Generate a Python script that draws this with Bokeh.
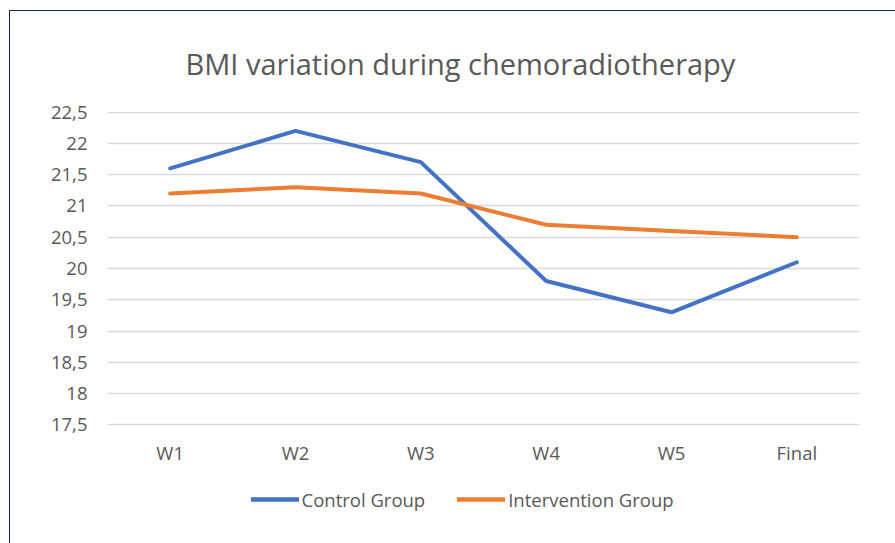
from bokeh.plotting import figure
from bokeh.layouts import column
from bokeh.models import Legend, LegendItem, FixedTicker, CustomJSTickFormatter
from bokeh.embed import file_html
from bokeh.resources import INLINE

weeks = ["W1", "W2", "W3", "W4", "W5", "Final"]
control = [21.6, 22.2, 21.7, 19.8, 19.3, 20.1]
intervention = [21.2, 21.3, 21.2, 20.7, 20.6, 20.5]
y_ticks = [17.5, 18, 18.5, 19, 19.5, 20, 20.5, 21, 21.5, 22, 22.5]
series_names = ["Control Group", "Intervention Group"]
title_text = "BMI variation during chemoradiotherapy"

FONT = "Open Sans"
GREY = "#595959"
BLUE = "#4472c4"
ORANGE = "#ed7d31"

p = figure(x_range=weeks, y_range=(17.49, 22.51), width=885, height=470,
           output_backend="svg", toolbar_location=None,
           min_border_left=97, min_border_right=36, min_border_top=100, min_border_bottom=56)
p.x_range.range_padding = 0
p.outline_line_color = None

p.title.text = title_text
p.title.text_font = FONT
p.title.text_font_size = "29px"
p.title.text_font_style = "normal"
p.title.text_color = GREY
p.title.align = "left"
p.title.offset = 78
p.title.standoff = 57

p.xgrid.grid_line_color = None
p.ygrid.grid_line_color = "#d9d9d9"
p.ygrid.grid_line_width = 1.3

p.yaxis.ticker = FixedTicker(ticks=y_ticks)
p.yaxis.formatter = CustomJSTickFormatter(code="return String(tick).replace('.', ',');")
for ax in (p.xaxis, p.yaxis):
    ax.axis_line_color = None
    ax.major_tick_line_color = None
    ax.minor_tick_line_color = None
    ax.major_label_text_font = FONT
    ax.major_label_text_font_size = "18.5px"
    ax.major_label_text_color = GREY
p.yaxis.major_label_standoff = 14
p.xaxis.major_label_standoff = 8

p.line(weeks, control, line_color=BLUE, line_width=4, line_join="round", line_cap="round")
p.line(weeks, intervention, line_color=ORANGE, line_width=4, line_join="round", line_cap="round")

# legend strip below the chart (its lines lie outside its own range, so only the legend shows)
q = figure(x_range=weeks, y_range=(0, 1), width=885, height=62,
           output_backend="svg", toolbar_location=None,
           min_border_left=0, min_border_right=0, min_border_top=0, min_border_bottom=0)
q.axis.visible = False
q.grid.grid_line_color = None
q.outline_line_color = None
k1 = q.line(weeks, control, line_color=BLUE, line_width=4.5, line_cap="round")
k2 = q.line(weeks, intervention, line_color=ORANGE, line_width=4.5, line_cap="round")
legend = Legend(items=[LegendItem(label=series_names[0], renderers=[k1]),
                       LegendItem(label=series_names[1], renderers=[k2])],
                orientation="horizontal", location=(144, 31),
                border_line_color=None, background_fill_alpha=0,
                padding=0, margin=0, spacing=32, glyph_width=48, glyph_height=20,
                label_standoff=3, label_text_font=FONT, label_text_font_size="18.5px",
                label_text_color=GREY)
q.add_layout(legend, "center")

layout = column(p, q, spacing=0)
layout.styles = {"margin-left": "8.5px", "margin-top": "9.5px",
                 "border-left": "1.5px solid #1c2a5e", "border-top": "1.5px solid #1c2a5e"}

open("out.html", "w").write(file_html(layout, INLINE))
